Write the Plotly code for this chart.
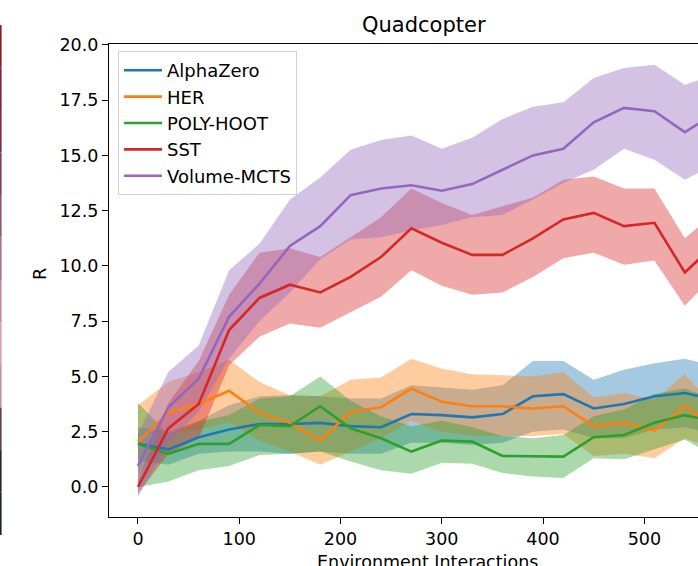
import plotly.graph_objects as go

# ---------------- data ----------------
x_vals = [0, 30, 60, 90, 120, 150, 180, 210, 240, 270, 300, 330, 360, 390, 420, 450, 480, 510, 540, 570]

series_names = ["AlphaZero", "HER", "POLY-HOOT", "SST", "Volume-MCTS"]

alphazero_mean = [1.95, 1.7, 2.25, 2.6, 2.85, 2.85, 2.9, 2.75, 2.7, 3.3, 3.25, 3.15, 3.3, 4.1, 4.2, 3.55, 3.75, 4.1, 4.25, 3.95]
alphazero_upper = [2.7, 2.5, 3.0, 3.7, 4.1, 4.15, 4.1, 4.0, 4.0, 4.6, 4.5, 4.4, 4.6, 5.7, 5.7, 4.85, 5.3, 5.6, 5.8, 5.45]
alphazero_lower = [1.2, 1.0, 1.5, 1.6, 1.6, 1.5, 1.6, 1.5, 1.5, 2.0, 2.0, 1.9, 2.0, 2.5, 2.6, 2.2, 2.2, 2.6, 2.7, 2.4]

her_mean = [2.05, 3.35, 3.75, 4.35, 3.35, 2.9, 2.1, 3.4, 3.6, 4.45, 3.85, 3.65, 3.65, 3.55, 3.65, 2.75, 2.9, 2.55, 3.65, 2.7]
her_upper = [3.7, 4.75, 5.2, 5.75, 4.75, 4.15, 4.1, 4.85, 4.95, 5.8, 5.35, 5.1, 5.05, 5.0, 5.2, 4.05, 4.25, 3.95, 5.1, 3.6]
her_lower = [0.5, 2.4, 2.6, 2.9, 2.1, 1.6, 1.0, 1.6, 2.2, 3.0, 2.5, 2.3, 2.3, 2.3, 2.4, 1.4, 1.5, 1.3, 2.2, 1.7]

poly_mean = [1.95, 1.5, 1.95, 1.95, 2.8, 2.75, 3.65, 2.65, 2.2, 1.6, 2.1, 2.05, 1.4, 1.4, 1.37, 2.25, 2.35, 2.9, 3.25, 2.95]
poly_upper = [3.8, 2.4, 2.95, 3.25, 4.0, 4.1, 5.0, 3.9, 3.2, 2.75, 3.0, 2.7, 2.3, 2.2, 2.35, 3.2, 3.5, 4.2, 4.45, 3.95]
poly_lower = [0.0, 0.25, 0.75, 0.95, 1.45, 1.5, 1.6, 1.15, 0.75, 0.6, 1.1, 1.05, 0.63, 0.47, 0.4, 1.3, 1.25, 1.7, 2.15, 1.35]

sst_mean = [0.0, 2.65, 3.75, 7.1, 8.55, 9.15, 8.8, 9.5, 10.4, 11.7, 11.05, 10.5, 10.5, 11.25, 12.1, 12.4, 11.8, 11.95, 9.7, 11.0]
sst_upper = [0.3, 3.8, 5.7, 8.7, 10.6, 10.8, 10.4, 11.3, 12.2, 13.5, 12.85, 12.3, 12.7, 13.1, 13.9, 14.05, 13.5, 13.5, 11.25, 12.4]
sst_lower = [-0.3, 1.5, 2.2, 5.5, 6.8, 7.4, 7.2, 7.9, 8.6, 9.8, 9.1, 8.7, 8.8, 9.5, 10.35, 10.6, 10.05, 10.25, 8.2, 9.6]

vol_mean = [0.95, 3.6, 4.9, 7.7, 9.2, 10.9, 11.8, 13.2, 13.5, 13.65, 13.4, 13.7, 14.35, 15.0, 15.3, 16.5, 17.15, 17.0, 16.05, 16.9]
vol_upper = [2.4, 5.2, 6.4, 9.8, 11.0, 13.0, 14.0, 15.25, 15.7, 15.9, 15.3, 15.8, 16.65, 17.2, 17.4, 18.5, 18.95, 19.1, 18.2, 18.65]
vol_lower = [-0.45, 2.0, 3.4, 5.8, 7.5, 8.8, 10.3, 11.2, 11.3, 11.6, 11.85, 12.2, 12.3, 13.0, 13.75, 14.35, 15.3, 14.8, 13.9, 14.6]

y_tick_vals = [0, 2.5, 5, 7.5, 10, 12.5, 15, 17.5, 20]
y_tick_text = ["0.0", "2.5", "5.0", "7.5", "10.0", "12.5", "15.0", "17.5", "20.0"]
x_tick_vals = [0, 100, 200, 300, 400, 500]
x_tick_text = ["0", "100", "200", "300", "400", "500"]

# ---------------- style ----------------
colors = ["#1f77b4", "#ff7f0e", "#2ca02c", "#d62728", "#9467bd"]
FONT = "DejaVu Sans"


def rgba(hex_color, a):
    h = hex_color.lstrip("#")
    r, g, b = int(h[0:2], 16), int(h[2:4], 16), int(h[4:6], 16)
    return f"rgba({r},{g},{b},{a})"


means = [alphazero_mean, her_mean, poly_mean, sst_mean, vol_mean]
uppers = [alphazero_upper, her_upper, poly_upper, sst_upper, vol_upper]
lowers = [alphazero_lower, her_lower, poly_lower, sst_lower, vol_lower]

fig = go.Figure()

# shaded bands first (below all lines, like matplotlib zorder)
for name, c, up, lo in zip(series_names, colors, uppers, lowers):
    fig.add_trace(go.Scatter(
        x=x_vals + x_vals[::-1],
        y=up + lo[::-1],
        fill="toself",
        fillcolor=rgba(c, 0.4),
        line=dict(width=0),
        mode="lines",
        hoverinfo="skip",
        showlegend=False,
    ))

for name, c, m in zip(series_names, colors, means):
    fig.add_trace(go.Scatter(
        x=x_vals, y=m, mode="lines", name=name,
        line=dict(color=c, width=2.6),
    ))

W, H = 698, 566
L, R, T, B = 109, 0, 44, 49
pw, ph = W - L - R, H - T - B


def px_x(p):
    return (p - L) / pw


def px_y(q):
    return (H - B - q) / ph


annotations = [
    dict(text="Quadcopter", x=px_x(424), y=px_y(25), xref="paper", yref="paper",
         xanchor="center", yanchor="middle", showarrow=False,
         font=dict(family=FONT, size=21, color="black")),
    dict(text="R", x=px_x(40), y=px_y(274), xref="paper", yref="paper",
         xanchor="center", yanchor="middle", showarrow=False, textangle=-90,
         font=dict(family=FONT, size=17.5, color="black")),
    dict(text="Environment Interactions", x=px_x(427), y=px_y(562), xref="paper", yref="paper",
         xanchor="center", yanchor="middle", showarrow=False,
         font=dict(family=FONT, size=17.5, color="black")),
]

# thin coloured strip at the far left edge (neighbouring image remnant)
strip_cols = ["#8a1c26", "#7e2634", "#743046", "#7c4258", "#8e5a6e", "#a87484",
              "#c48c98", "#d8a2aa", "#c4949c", "#5c4452", "#26283a", "#1c2232"]
shapes = []
y0, y1 = 25, 535
n = len(strip_cols)
for i, sc in enumerate(strip_cols):
    a = y0 + (y1 - y0) * i / n
    b = y0 + (y1 - y0) * (i + 1) / n
    shapes.append(dict(type="rect", xref="paper", yref="paper",
                       x0=px_x(0), x1=px_x(1.6), y0=px_y(b), y1=px_y(a),
                       fillcolor=sc, line=dict(width=0), layer="above"))

fig.update_layout(
    width=W, height=H, autosize=False,
    margin=dict(l=L, r=R, t=T, b=B, pad=0),
    paper_bgcolor="white", plot_bgcolor="white",
    font=dict(family=FONT, size=17.5, color="black"),
    showlegend=True,
    legend=dict(
        x=px_x(118), y=px_y(51), xanchor="left", yanchor="top",
        bgcolor="rgba(255,255,255,0.8)", bordercolor="rgba(204,204,204,0.9)", borderwidth=1,
        font=dict(family=FONT, size=18, color="black"),
        tracegroupgap=0, itemwidth=38,
    ),
    annotations=annotations,
    shapes=shapes,
    xaxis=dict(
        range=[-28.6, 553.0], tickvals=x_tick_vals, ticktext=x_tick_text,
        showgrid=False, zeroline=False, ticks="outside", ticklen=6, tickwidth=1.3,
        tickcolor="black", showline=True, linecolor="black", linewidth=1.3, mirror=True,
        tickfont=dict(family=FONT, size=17.5, color="black"),
    ),
    yaxis=dict(
        range=[-1.36, 20.04], tickvals=y_tick_vals, ticktext=y_tick_text,
        showgrid=False, zeroline=False, ticks="outside", ticklen=6, tickwidth=1.3,
        tickcolor="black", showline=True, linecolor="black", linewidth=1.3, mirror=False,
        tickfont=dict(family=FONT, size=17.5, color="black"),
    ),
)

fig.write_html(
    "out.html",
    config={"displayModeBar": False},
    post_script="document.body.style.margin='0';document.body.style.overflow='hidden';",
)
